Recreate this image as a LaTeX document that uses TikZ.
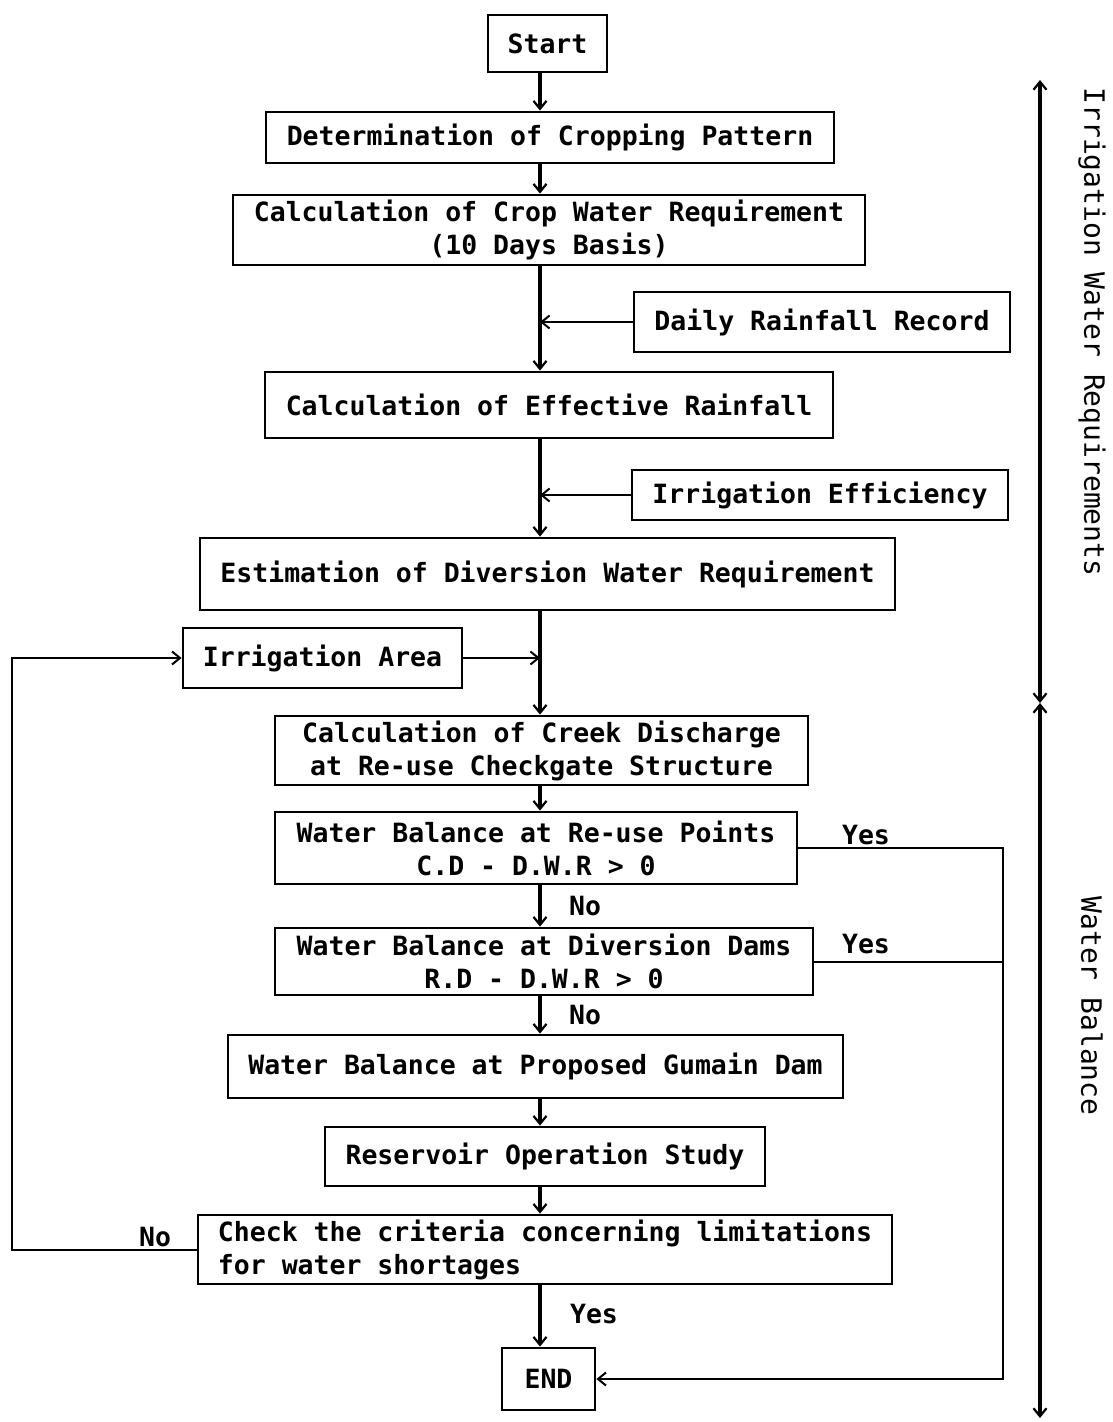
\documentclass[tikz,border=0pt]{standalone}
\usepackage{fontspec}
\setmainfont{DejaVu Sans Mono}
\usetikzlibrary{arrows.meta}
\begin{document}
\begin{tikzpicture}[x=1pt,y=-1pt,
  font=\fontsize{26.5}{33}\selectfont\bfseries,
  box/.style={draw,line width=2.8pt,inner sep=0pt,align=center},
  lbl/.style={inner sep=0pt},
  side/.style={inner sep=0pt,rotate=-90,font=\fontsize{28}{33}\selectfont},
  flow/.style={line width=3.4pt,-{Straight Barb[length=8pt,width=13pt,line width=2.2pt]}},
  thin/.style={line width=2pt},
  thinarr/.style={line width=2pt,-{Straight Barb[length=8pt,width=13pt,line width=2pt]}},
  axarr/.style={line width=3.4pt,{Straight Barb[length=8pt,width=13pt,line width=2.2pt]}-{Straight Barb[length=8pt,width=13pt,line width=2.2pt]}}]
\useasboundingbox (0,0) rectangle (1112,1422);
\coordinate (ax) at (540,0);
\coordinate (lx) at (12,0);
\coordinate (yx) at (1003,0);
\coordinate (axt) at (1040,80);
\coordinate (axm) at (1040,703);
\coordinate (axb) at (1040,1418);

\node[box,minimum width=119,minimum height=57] (start) at (547.5,43.5) {Start};
\node[box,minimum width=568,minimum height=51] (det) at (550,137.5) {Determination of Cropping Pattern};
\node[box,minimum width=632,minimum height=70] (crop) at (549,230) {Calculation of Crop Water Requirement\\(10 Days Basis)};
\node[box,minimum width=376,minimum height=60] (daily) at (822,322) {Daily Rainfall Record};
\node[box,minimum width=568,minimum height=66] (eff) at (549,405) {Calculation of Effective Rainfall};
\node[box,minimum width=376,minimum height=50] (ieff) at (820,495) {Irrigation Efficiency};
\node[box,minimum width=695,minimum height=72] (div) at (547.5,574) {Estimation of Diversion Water Requirement};
\node[box,minimum width=279,minimum height=60] (area) at (322.5,658) {Irrigation Area};
\node[box,minimum width=533,minimum height=69] (creek) at (541.5,750.5) {Calculation of Creek Discharge\\at Re-use Checkgate Structure};
\node[box,minimum width=522,minimum height=72] (reuse) at (536,848) {Water Balance at Re-use Points\\C.D - D.W.R > 0};
\node[box,minimum width=538,minimum height=67] (dams) at (544,961.5) {Water Balance at Diversion Dams\\R.D - D.W.R > 0};
\node[box,minimum width=615,minimum height=63] (gum) at (535.5,1066.5) {Water Balance at Proposed Gumain Dam};
\node[box,minimum width=440,minimum height=59] (res) at (545,1156.5) {Reservoir Operation Study};
\node[box,minimum width=694,minimum height=69,align=left] (chk) at (545,1249.5) {Check the criteria concerning limitations\\for water shortages};
\node[box,minimum width=93,minimum height=62] (fin) at (548.5,1379) {END};

% main flow
\draw[flow] (start.south -| ax) -- (det.north -| ax);
\draw[flow] (det.south -| ax) -- (crop.north -| ax);
\draw[flow] (crop.south -| ax) -- (eff.north -| ax);
\draw[flow] (eff.south -| ax) -- (div.north -| ax);
\draw[flow] (div.south -| ax) -- (creek.north -| ax);
\draw[flow] (creek.south -| ax) -- (reuse.north -| ax);
\draw[flow] (reuse.south -| ax) -- (dams.north -| ax);
\draw[flow] (dams.south -| ax) -- (gum.north -| ax);
\draw[flow] (gum.south -| ax) -- (res.north -| ax);
\draw[flow] (res.south -| ax) -- (chk.north -| ax);
\draw[flow] (chk.south -| ax) -- (fin.north -| ax);

% side inputs
\draw[thinarr] (daily.west) -- (daily.west -| ax);
\draw[thinarr] (ieff.west) -- (ieff.west -| ax);
\draw[thinarr] (area.east) -- (area.east -| ax);

% loop back
\draw[thinarr] (chk.west) -- (chk.west -| lx) -- (area.west -| lx) -- (area.west);

% yes branches
\draw[thinarr] (reuse.east) -- (reuse.east -| yx) -- (fin.east -| yx) -- (fin.east);
\draw[thin] (dams.east) -- (dams.east -| yx);

% labels
\node[lbl] (y1) at (866,835) {Yes};
\node[lbl] (y2) at (866,944) {Yes};
\node[lbl] (n1) at (585,906) {No};
\node[lbl] (n2) at (585,1015) {No};
\node[lbl] (y3) at (594,1314) {Yes};
\node[lbl] (n3) at (155,1237) {No};

% right axis
\draw[axarr] (axt) -- (axm);
\draw[axarr] (axm) -- (axb);
\node[side] (t1) at (1092,332) {Irrigation Water Requirements};
\node[side] (t2) at (1092,1006) {Water Balance};
\end{tikzpicture}
\end{document}
